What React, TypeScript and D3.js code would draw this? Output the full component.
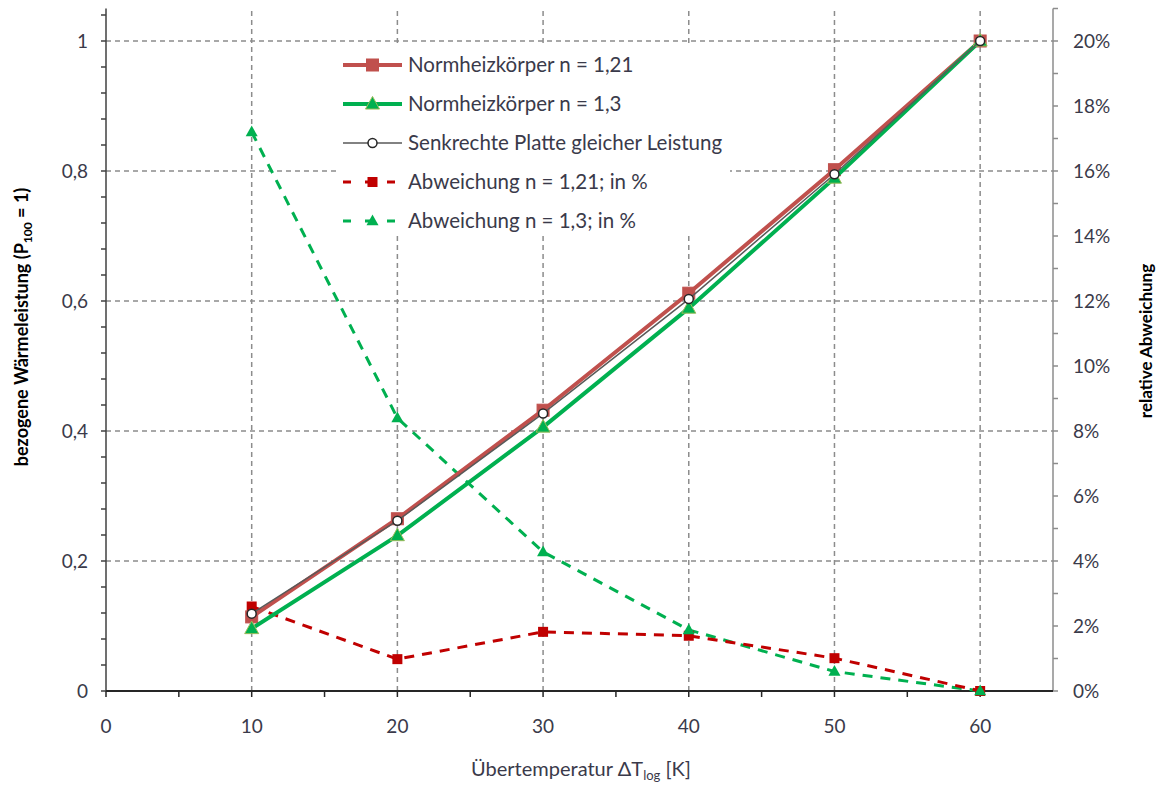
import React from "react";
import * as d3 from "d3";

// Übertemperatur ΔT_log in K
const temps = [10, 20, 30, 40, 50, 60];
// bezogene Wärmeleistung (P100 = 1)
const normN121 = [0.114, 0.265, 0.432, 0.612, 0.802, 1.0];
const normN13 = [0.096, 0.239, 0.406, 0.589, 0.789, 1.0];
const platte = [0.119, 0.262, 0.427, 0.603, 0.795, 1.0];
// relative Abweichung (Anteil)
const abwN121 = [0.026, 0.0098, 0.0182, 0.0170, 0.0101, 0.0];
const abwN13 = [0.172, 0.084, 0.0428, 0.0188, 0.006, 0.0];

const xTicks = [0, 10, 20, 30, 40, 50, 60];
const xMinorTicks = [5, 15, 25, 35, 45, 55];
const yLeftTicks = [0, 0.2, 0.4, 0.6, 0.8, 1];
const yRightTicks = [0, 0.02, 0.04, 0.06, 0.08, 0.1, 0.12, 0.14, 0.16, 0.18, 0.2];

const W = 1158;
const H = 785;
const FONT = "Lato, 'Open Sans', sans-serif";
const TXT = "#3a3a4a";

export default function App() {
  const x = d3.scaleLinear().domain([0, 65]).range([106, 1053]);
  const yL = d3.scaleLinear().domain([0, 1.05]).range([691, 8.5]);
  const yR = d3.scaleLinear().domain([0, 0.21]).range([691, 8.5]);

  const lineL = (vals: number[]) =>
    d3.line<number>().x((_, i) => x(temps[i])).y((v) => yL(v))(vals) || "";
  const lineR = (vals: number[]) =>
    d3.line<number>().x((_, i) => x(temps[i])).y((v) => yR(v))(vals) || "";

  const triPath = (cx: number, cy: number, s: number) => {
    const h = s * 0.9;
    return `M${cx},${cy - h * 0.6}L${cx + s / 2},${cy + h * 0.4}L${cx - s / 2},${cy + h * 0.4}Z`;
  };

  const [x0, x1] = x.range();
  const yBottom = yL(0);
  const yTop = yL(1.05);

  const leftMinor = d3.range(0, 1.05, 0.04);
  const rightMinor = d3.range(0, 0.2101, 0.01);

  const legendItems = [
    { label: "Normheizkörper n = 1,21", kind: "sq", color: "#C0504D", dash: "", width: 4 },
    { label: "Normheizkörper n = 1,3", kind: "tri", color: "#00B050", dash: "", width: 4 },
    { label: "Senkrechte Platte gleicher Leistung", kind: "circ", color: "#595959", dash: "", width: 1.5 },
    { label: "Abweichung n =  1,21; in %", kind: "sq2", color: "#C00000", dash: "10,8", width: 3 },
    { label: "Abweichung n = 1,3; in %", kind: "tri2", color: "#00B050", dash: "10,8", width: 3 },
  ];

  const marker = (kind: string, cx: number, cy: number, key: string) => {
    if (kind === "sq")
      return <rect key={key} x={cx - 6} y={cy - 6} width={12} height={12} fill="#C0504D" stroke="#C0504D" />;
    if (kind === "sq2")
      return <rect key={key} x={cx - 5} y={cy - 5} width={10} height={10} fill="#C00000" />;
    if (kind === "tri")
      return <path key={key} d={triPath(cx, cy, 14)} fill="#00B050" stroke="#9BBB59" strokeWidth={1} />;
    if (kind === "tri2")
      return <path key={key} d={triPath(cx, cy, 12)} fill="#00B050" />;
    return <circle key={key} cx={cx} cy={cy} r={4.5} fill="#fff" stroke="#262626" strokeWidth={1.5} />;
  };

  return (
    <svg
      width={W}
      height={H}
      style={{ position: "absolute", left: 0, top: 0, background: "#fff" }}
      fontFamily={FONT}
    >
      <rect width={W} height={H} fill="#fff" />
      {/* Gitterlinien */}
      {xTicks.slice(1).map((t) => (
        <line key={"gx" + t} x1={x(t)} x2={x(t)} y1={yBottom} y2={yTop} stroke="#8c8c8c" strokeWidth={1.5} strokeDasharray="5,4" />
      ))}
      {yLeftTicks.slice(1).map((t) => (
        <line key={"gy" + t} x1={x0} x2={x1} y1={yL(t)} y2={yL(t)} stroke="#8c8c8c" strokeWidth={1.5} strokeDasharray="5,4" />
      ))}

      {/* Achsen */}
      <line x1={x0} x2={x0} y1={yBottom} y2={yTop} stroke="#404040" strokeWidth={1.5} />
      <line x1={x1} x2={x1} y1={yBottom} y2={yTop} stroke="#8c8c8c" strokeWidth={1.5} />
      <line x1={x0} x2={x1} y1={yBottom} y2={yBottom} stroke="#262626" strokeWidth={2} />
      {leftMinor.map((t) => (
        <line key={"lm" + t} x1={x0 - 5} x2={x0} y1={yL(t)} y2={yL(t)} stroke="#404040" strokeWidth={1.5} />
      ))}
      {rightMinor.map((t) => (
        <line key={"rm" + t} x1={x1} x2={x1 + 5} y1={yR(t)} y2={yR(t)} stroke="#8c8c8c" strokeWidth={1.5} />
      ))}
      {xTicks.concat(xMinorTicks).map((t) => (
        <line key={"xt" + t} x1={x(t)} x2={x(t)} y1={yBottom} y2={yBottom + 6} stroke="#262626" strokeWidth={1.5} />
      ))}

      {/* Achsbeschriftungen */}
      {yLeftTicks.map((t) => (
        <text key={"yl" + t} x={88} y={yL(t)} dy="0.35em" textAnchor="end" fontSize={19} fill={TXT}>
          {String(t).replace(".", ",")}
        </text>
      ))}
      {yRightTicks.map((t) => (
        <text key={"yr" + t} x={1073} y={yR(t)} dy="0.35em" textAnchor="start" fontSize={19} fill={TXT}>
          {Math.round(t * 100) + "%"}
        </text>
      ))}
      {xTicks.map((t) => (
        <text key={"xl" + t} x={x(t)} y={733} textAnchor="middle" fontSize={19} fill={TXT}>
          {t}
        </text>
      ))}
      <text x={581} y={776} textAnchor="middle" fontSize={20} fill={TXT}>
        Übertemperatur ΔT
        <tspan fontSize={13} dy={4}>log</tspan>
        <tspan dy={-4}> [K]</tspan>
      </text>
      <text transform="translate(28,327) rotate(-90)" textAnchor="middle" fontSize={18} fontWeight="bold" fill="#000">
        bezogene Wärmeleistung (P
        <tspan fontSize={12} dy={4}>100</tspan>
        <tspan dy={-4}> = 1)</tspan>
      </text>
      <text transform="translate(1152,341) rotate(-90)" textAnchor="middle" fontSize={17} fontWeight="bold" fill="#000">
        relative Abweichung
      </text>

      {/* Abweichungen (rechte Achse) */}
      <path d={lineR(abwN13)} fill="none" stroke="#00B050" strokeWidth={3} strokeDasharray="10,8" />
      <path d={lineR(abwN121)} fill="none" stroke="#C00000" strokeWidth={3} strokeDasharray="10,8" />
      {abwN121.map((v, i) => marker("sq2", x(temps[i]), yR(v), "as" + i))}
      {abwN13.map((v, i) => marker("tri2", x(temps[i]), yR(v), "at" + i))}

      {/* Leistungskurven (linke Achse) */}
      <path d={lineL(normN121)} fill="none" stroke="#C0504D" strokeWidth={4} />
      {normN121.map((v, i) => marker("sq", x(temps[i]), yL(v), "ns" + i))}
      <path d={lineL(normN13)} fill="none" stroke="#00B050" strokeWidth={4} />
      {normN13.map((v, i) => marker("tri", x(temps[i]), yL(v), "nt" + i))}
      <path d={lineL(platte)} fill="none" stroke="#595959" strokeWidth={1.5} />
      {platte.map((v, i) => marker("circ", x(temps[i]), yL(v), "pc" + i))}

      {/* Legende */}
      <rect x={336} y={46} width={394} height={190} fill="#fff" />
      {legendItems.map((it, i) => {
        const cy = 65 + i * 39;
        return (
          <g key={"lg" + i}>
            <line x1={343} x2={402} y1={cy} y2={cy} stroke={it.color} strokeWidth={it.width} strokeDasharray={it.dash ? "8,14" : ""} />
            {marker(it.kind, 372.5, cy, "lm" + i)}
            <text x={408} y={cy} dy="0.35em" fontSize={20.5} fill={TXT}>
              {it.label}
            </text>
          </g>
        );
      })}
    </svg>
  );
}
